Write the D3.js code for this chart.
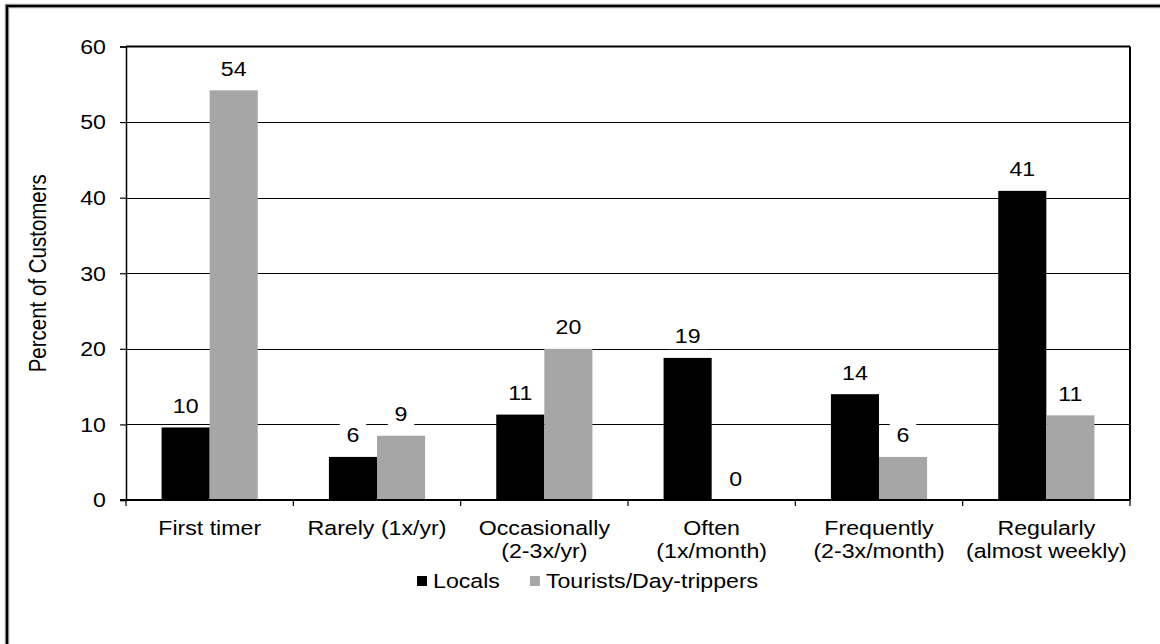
<!DOCTYPE html>
<html>
<head>
<meta charset="utf-8">
<script src="https://cdn.jsdelivr.net/npm/d3@7"></script>
<style>
  html, body { margin: 0; padding: 0; background: #fff; }
  svg { display: block; font-family: "Liberation Sans", Arial, sans-serif; }
</style>
</head>
<body>
<svg id="chart" width="1160" height="644"></svg>
<script>
// ---- data ----
const categories = [
  ["First timer"],
  ["Rarely (1x/yr)"],
  ["Occasionally", "(2-3x/yr)"],
  ["Often", "(1x/month)"],
  ["Frequently", "(2-3x/month)"],
  ["Regularly", "(almost weekly)"]
];
const seriesNames = ["Locals", "Tourists/Day-trippers"];
const locals   = [9.6, 5.7, 11.3, 18.8, 14.0, 40.9];
const tourists = [54.2, 8.5, 20.0, 0, 5.7, 11.2];
const yTicks = [0, 10, 20, 30, 40, 50, 60];
const yLabel = "Percent of Customers";
const colors = ["#000000", "#a6a6a6"];

// ---- layout ----
const svg = d3.select("#chart");
const W = 1160, H = 644;
const plot = { left: 126, right: 1130, top: 46.5, bottom: 500 };
const FS = 20.5;
const SX = 1.13; // horizontal stretch of the reference text

// stretched text helper: anchor point (x,y), text drawn in local coords
function stext(parent, x, y, lines, anchor, lineH) {
  const g = parent.append("g").attr("transform", `translate(${x},${y}) scale(${SX},1)`);
  const t = g.append("text").attr("x", 0).attr("y", 0).attr("text-anchor", anchor || "start")
    .attr("font-size", FS).attr("fill", "#000");
  [].concat(lines).forEach((s, i) => {
    t.append("tspan").attr("x", 0).attr("dy", i === 0 ? 0 : (lineH || 24)).text(s);
  });
  return { g, t };
}

// outer border (extends past viewport on right/bottom)
svg.append("rect").attr("x", 7).attr("y", 6).attr("width", W + 20).attr("height", H + 20)
  .attr("fill", "none").attr("stroke", "#9a9a9a").attr("stroke-width", 4.5);
svg.append("rect").attr("x", 7).attr("y", 6).attr("width", W + 20).attr("height", H + 20)
  .attr("fill", "none").attr("stroke", "#000").attr("stroke-width", 2.2);

const catKeys = categories.map(c => c.join(" "));
const x0 = d3.scaleBand().domain(catKeys).range([plot.left, plot.right]).paddingInner(0).paddingOuter(0);
const x1 = d3.scaleBand().domain(seriesNames).range([0, x0.bandwidth()]).paddingInner(0).paddingOuter(0.74);
const y = d3.scaleLinear().domain([0, 60]).range([plot.bottom, plot.top]);

// gridlines
svg.append("g").selectAll("line").data(yTicks.filter(t => t > 0 && t < 60)).join("line")
  .attr("x1", plot.left).attr("x2", plot.right)
  .attr("y1", d => Math.round(y(d)) + 0.5).attr("y2", d => Math.round(y(d)) + 0.5)
  .attr("stroke", "#000").attr("stroke-width", 1);

// bars
const data = catKeys.map((k, i) => ({ key: k, values: [locals[i], tourists[i]] }));
const groups = svg.append("g").selectAll("g").data(data).join("g")
  .attr("transform", d => `translate(${x0(d.key)},0)`);
groups.selectAll("rect").data(d => d.values.map((v, j) => ({ s: seriesNames[j], v, j }))).join("rect")
  .attr("x", d => x1(d.s)).attr("width", x1.bandwidth())
  .attr("y", d => y(d.v)).attr("height", d => y(0) - y(d.v))
  .attr("fill", d => colors[d.j]);

// frame top + right
svg.append("line").attr("x1", plot.left).attr("x2", plot.right).attr("y1", plot.top).attr("y2", plot.top)
  .attr("stroke", "#000").attr("stroke-width", 2);
svg.append("line").attr("x1", plot.right).attr("x2", plot.right).attr("y1", plot.top).attr("y2", plot.bottom)
  .attr("stroke", "#000").attr("stroke-width", 2);

// y axis (lines from d3 axis, labels drawn stretched)
const yAxis = d3.axisLeft(y).tickValues(yTicks).tickSize(6).tickFormat("");
const ya = svg.append("g").attr("transform", `translate(${plot.left},0)`).call(yAxis);
ya.select(".domain").attr("stroke", "#000").attr("stroke-width", 1.5);
ya.selectAll(".tick line").attr("stroke", "#000").attr("stroke-width", 1.2);
const ytl = svg.append("g");
yTicks.forEach(v => stext(ytl, 106, y(v) + 7.3, String(v), "end"));

// x axis (ticks at category boundaries)
const xa = svg.append("g").attr("transform", `translate(0,${plot.bottom})`);
xa.append("line").attr("x1", plot.left - 6).attr("x2", plot.right).attr("y1", 0).attr("y2", 0)
  .attr("stroke", "#000").attr("stroke-width", 2);
const bounds = catKeys.map(k => x0(k)).concat([plot.right]);
xa.selectAll("line.tk").data(bounds).join("line").attr("class", "tk")
  .attr("x1", d => d).attr("x2", d => d).attr("y1", 0).attr("y2", 6)
  .attr("stroke", "#000").attr("stroke-width", 1.2);
categories.forEach((c, i) => stext(xa, x0(catKeys[i]) + x0.bandwidth() / 2, 35, c, "middle", 23));

// y label (rotated; stretch applies across the glyphs)
svg.append("g").attr("transform", `translate(46,${(plot.top + plot.bottom) / 2}) rotate(-90) scale(1,${SX})`)
  .append("text").attr("text-anchor", "middle").attr("font-size", FS).attr("fill", "#000").text(yLabel);

// data labels with white boxes
const lg = svg.append("g");
data.forEach(d => d.values.forEach((v, j) => {
  const cx = x0(d.key) + x1(seriesNames[j]) + x1.bandwidth() / 2;
  const cy = y(v) - 14.5;
  const g = lg.append("g").attr("transform", `translate(${cx},${cy}) scale(${SX},1)`);
  const r = g.append("rect").attr("fill", "#fff");
  const t = g.append("text").attr("text-anchor", "middle").attr("font-size", FS).attr("fill", "#000")
    .text(d3.format(".0f")(v));
  const b = t.node().getBBox();
  r.attr("x", b.x - 6).attr("y", b.y - 1).attr("width", b.width + 12).attr("height", b.height + 2);
}));

// legend
const leg = svg.append("g");
const legY = 581;
let lx = 417;
seriesNames.forEach((s, i) => {
  leg.append("rect").attr("x", lx).attr("y", legY - 5).attr("width", 10).attr("height", 10).attr("fill", colors[i]);
  const o = stext(leg, lx + 16, legY + 7, s, "start");
  lx = lx + 16 + o.t.node().getComputedTextLength() * SX + 30;
});
</script>
</body>
</html>
